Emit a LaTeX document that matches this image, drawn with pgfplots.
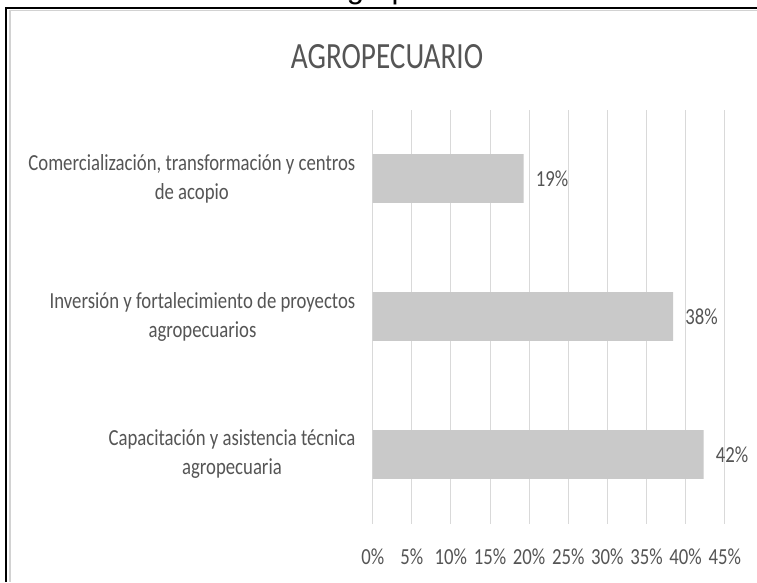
\documentclass[border=0pt]{standalone}
\usepackage{fontspec}
\setmainfont[FakeStretch=0.79]{Carlito}
\newfontfamily\lblfont[FakeStretch=0.815]{Carlito}
\newfontfamily\arialfont{Liberation Sans}
\usepackage{pgfplots}
\pgfplotsset{compat=1.18}
\definecolor{txt}{HTML}{555555}
\definecolor{barc}{HTML}{C9C9C9}
\definecolor{gridc}{HTML}{D9D9D9}
\begin{document}
\begin{tikzpicture}[x=1pt,y=1pt]
\useasboundingbox (0,0) rectangle (757,582);
\fill[white] (0,0) rectangle (757,582);
% frame
\draw[gray!35, line width=1.5pt] (10,0) -- (10,571.5) -- (757,571.5);
\draw[black, line width=2pt] (6,0) -- (6,574.3) -- (757,574.3);
\node[anchor=base west, font=\arialfont\fontsize{31}{37}\selectfont, inner sep=0pt] at (326,583.5) {Agropecuario};
\node[anchor=base, font=\fontsize{37}{44}\selectfont, text=txt, inner sep=0pt] at (387,513.7) {AGROPECUARIO};
\begin{axis}[
  at={(372.7pt,58.5pt)}, anchor=south west,
  scale only axis, width=352pt, height=414pt,
  xbar, bar width=0.355,
  xmin=0, xmax=45, ymin=-0.5, ymax=2.5,
  xtick={0,5,...,45},
  xticklabels={0\%,5\%,10\%,15\%,20\%,25\%,30\%,35\%,40\%,45\%},
  ytick={0,1,2},
  yticklabels={{Capacitación y asistencia técnica\\agropecuaria},
               {Inversión y fortalecimiento de proyectos\\agropecuarios},
               {Comercialización, transformación y centros\\de acopio}},
  axis line style={draw=none},
  major tick length=0pt,
  xmajorgrids, ymajorgrids=false,
  grid style={gridc, line width=0.9pt},
  /pgf/number format/assume math mode=true,
  xticklabel style={font=\lblfont\fontsize{23}{29}\selectfont, text=txt, inner sep=0pt, anchor=center, yshift=-33pt},
  yticklabel style={font=\lblfont\fontsize{23}{29}\selectfont, text=txt, inner sep=0pt, align=center, anchor=east, xshift=-17.2pt},
  clip=false,
  point meta=explicit symbolic,
  nodes near coords,
  every node near coord/.append style={font=\lblfont\fontsize{23}{29}\selectfont, text=txt, inner sep=0pt, anchor=west, xshift=12pt},
]
\addplot[fill=barc, draw=none] coordinates {
  (42.3,0) [42\%]
  (38.4,1) [38\%]
  (19.3,2) [19\%]
};
\end{axis}
\end{tikzpicture}
\end{document}
